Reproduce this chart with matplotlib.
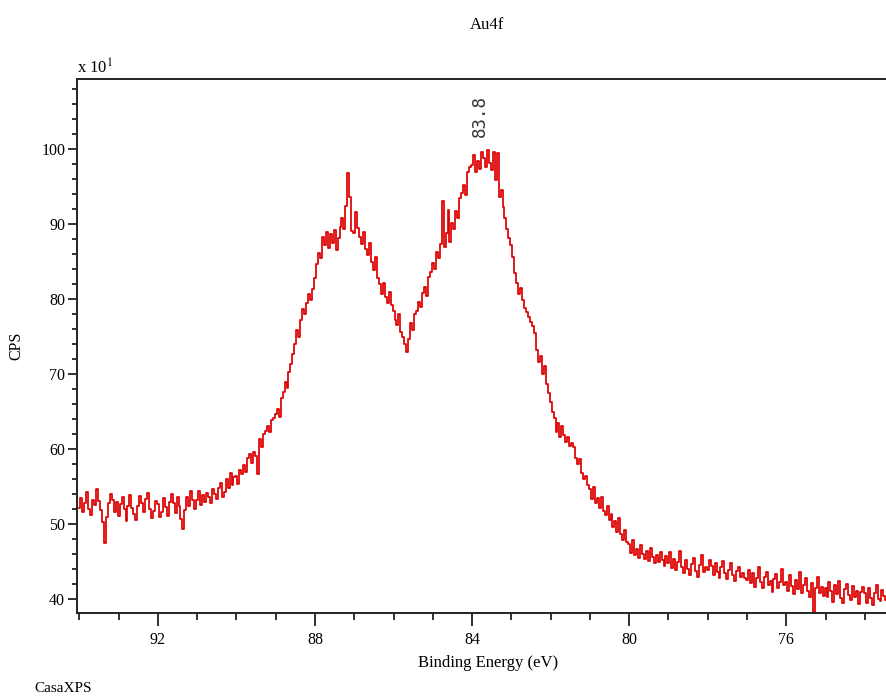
import matplotlib
matplotlib.use('Agg')
import matplotlib.pyplot as plt
import numpy as np

### Data (0.05 eV steps from 94.00 eV)

e_start = 94.00
e_step = 0.05

cps = [
    # 94.00 - 93.05
    52.1, 53.4, 51.6, 52.8, 54.2, 52.0, 51.2, 53.1, 52.5, 54.6, 53.0, 51.8, 50.2, 47.4, 50.9, 52.7, 54.0, 53.2, 51.5, 52.9,
    # 93.00 - 92.05
    51.0, 52.6, 53.5, 51.9, 50.4, 52.3, 53.8, 52.1, 51.3, 50.5, 52.4, 53.7, 52.8, 51.6, 53.3, 54.1, 52.0, 50.8, 51.7, 53.0,
    # 92.00 - 91.05
    52.6, 50.9, 51.5, 53.4, 52.2, 51.0, 52.9, 54.0, 52.7, 51.4, 53.5, 52.3, 50.6, 49.3, 51.8, 53.6, 52.4, 54.3, 53.1, 52.0,
    # 91.00 - 90.05
    53.2, 54.4, 52.5, 53.8, 52.9, 54.1, 53.5, 52.7, 54.6, 53.9, 53.3, 54.8, 55.4, 53.6, 54.2, 55.9, 54.7, 56.8, 55.1, 56.2,
    # 90.00 - 89.05
    56.4, 55.3, 57.1, 56.6, 57.8, 56.9, 58.7, 59.3, 58.1, 59.6, 59.0, 56.6, 61.3, 60.2, 61.9, 62.4, 63.0, 62.2, 63.8, 64.1,
    # 89.00 - 88.05
    64.6, 65.3, 64.2, 66.8, 67.5, 68.9, 68.1, 70.2, 71.3, 72.6, 74.0, 75.8, 74.9, 77.2, 78.6, 77.9, 79.4, 80.6, 79.8, 81.3,
    # 88.00 - 87.05
    82.8, 84.6, 86.1, 85.4, 88.2, 87.1, 88.9, 86.8, 88.6, 87.4, 89.2, 86.5, 88.1, 89.6, 90.8, 89.3, 92.4, 96.8, 93.5, 89.0,
    # 87.00 - 86.05
    88.7, 91.5, 89.4, 88.2, 87.3, 88.9, 86.6, 85.8, 87.4, 84.9, 83.8, 85.5, 82.7, 81.9, 80.6, 82.1, 80.2, 79.4, 80.9, 79.1,
    # 86.00 - 85.05
    78.3, 77.1, 76.5, 78.0, 75.6, 74.9, 73.9, 72.9, 74.6, 76.8, 75.8, 77.9, 78.4, 79.6, 78.9, 80.8, 81.5, 80.4, 82.9, 83.6,
    # 85.00 - 84.05
    84.8, 83.9, 86.2, 85.4, 87.3, 93.0, 86.9, 88.8, 91.8, 87.6, 90.1, 89.3, 91.7, 90.8, 93.4, 94.1, 95.2, 93.8, 96.9, 97.6,
    # 84.00 - 83.05
    97.8, 99.2, 96.9, 98.4, 97.3, 99.6, 98.8, 97.5, 99.8, 98.1, 97.2, 99.5, 95.8, 99.4, 93.6, 94.5, 92.2, 90.8, 89.3, 88.1,
    # 83.00 - 82.05
    87.2, 85.6, 83.4, 82.1, 80.6, 81.4, 79.8, 78.7, 78.2, 77.6, 76.9, 76.3, 75.4, 73.2, 71.6, 72.4, 69.9, 71.0, 68.6, 67.4,
    # 82.00 - 81.05
    66.2, 64.9, 64.1, 62.2, 63.4, 61.5, 63.0, 61.8, 60.9, 61.6, 60.4, 60.8, 60.2, 58.8, 57.9, 58.6, 56.8, 55.9, 56.4, 55.1,
    # 81.00 - 80.05
    54.6, 53.3, 54.9, 52.8, 53.4, 52.1, 53.6, 51.7, 51.2, 52.4, 50.5, 51.3, 49.6, 50.4, 48.9, 50.8, 48.6, 47.9, 49.1, 47.6,
    # 80.00 - 79.05
    47.3, 46.1, 47.8, 45.9, 46.6, 45.4, 47.2, 46.0, 45.3, 46.4, 45.0, 46.8, 45.6, 44.7, 45.9, 44.9, 46.3, 45.1, 44.4, 45.7,
    # 79.00 - 78.05
    44.8, 46.2, 44.1, 45.3, 43.9, 44.9, 46.4, 44.3, 43.5, 45.1, 44.0, 43.2, 44.6, 45.4, 43.7, 42.9, 44.5, 45.8, 43.6, 44.2,
    # 78.00 - 77.05
    43.8, 45.1, 44.4, 43.2, 44.7, 43.6, 42.8, 44.2, 45.0, 43.4, 42.6, 43.9, 44.8, 43.1, 42.4, 43.7, 44.3, 42.9, 43.5, 42.7,
    # 77.00 - 76.05
    42.5, 43.9, 42.1, 43.4, 41.6, 42.8, 44.2, 42.3, 41.4, 42.9, 43.6, 41.8, 42.4, 40.9, 42.6, 43.3, 41.5, 42.2, 44.0, 41.9,
    # 76.00 - 75.05
    42.3, 41.1, 43.2, 41.7, 40.6, 42.5, 41.3, 43.6, 40.8, 41.9, 42.7, 41.0, 40.2, 42.1, 38.3, 41.4, 42.9, 40.7, 41.6, 40.4,
    # 75.00 - 74.05
    41.5, 40.3, 42.2, 41.0, 39.6, 41.8, 40.6, 42.4, 40.1, 39.4, 41.3, 42.0, 40.5, 39.8, 41.7, 40.2, 41.1, 39.3, 40.9, 41.6,
    # 74.00 - 73.45
    40.7, 39.5, 41.4, 40.1, 39.2, 40.8, 41.9, 40.0, 39.7, 41.2, 40.4, 39.9,
]

energy = np.round(e_start - e_step * np.arange(len(cps)), 2)

peak_label = '83.8'
peak_pos = 83.8

x_major = [92, 88, 84, 80, 76]
y_major = [40, 50, 60, 70, 80, 90, 100]

plt.rcParams['font.family'] = ['Liberation Serif', 'DejaVu Serif']
plt.rcParams['mathtext.fontset'] = 'stix'

### Figure

fig = plt.figure(figsize=(8.86, 6.97), dpi=100)
ax = fig.add_axes([77 / 886, 84 / 697, 809 / 886, 534 / 697])

# CasaXPS draws the counts as a step trace
ax.plot(energy, cps, '-', color='#dd0000', lw=1.25, drawstyle='steps-mid')

ax.set_xticks(x_major)
ax.set_xticks(np.arange(74, 95, 1), minor=True)
ax.set_yticks(y_major)
ax.set_yticks(np.arange(40, 110, 2), minor=True)

# limits after ticks so the minor ticks do not widen the view
ax.set_xlim(94.06, 73.46)
ax.set_ylim(38.1, 109.3)

ax.tick_params(which='both', direction='out', width=1.3, labelsize=11.5, color='#222222')
ax.tick_params(axis='x', which='major', length=9, pad=5)
ax.tick_params(axis='x', which='minor', length=5)
ax.tick_params(axis='y', which='major', length=6.5, pad=2)
ax.tick_params(axis='y', which='minor', length=3.5)

for side in ['left', 'bottom', 'top']:
    ax.spines[side].set_linewidth(1.4)
    ax.spines[side].set_color('#222222')
ax.spines['right'].set_visible(False)

# peak annotation
ax.text(peak_pos, 101.6, peak_label, rotation=90, ha='center', va='bottom',
        fontsize=12.5, family='DejaVu Sans Mono', color='#333333')

# multiplier label above the y axis
ax.text(0, 1.003, r'x 10$^{1}$', transform=ax.transAxes, ha='left', va='bottom', fontsize=12)

fig.text(487 / 886, 1 - 25 / 697, 'Au4f', ha='center', va='center', fontsize=12)
fig.text(16 / 886, 1 - 346 / 697, 'CPS', rotation=90, ha='center', va='center', fontsize=11.5)
fig.text(488 / 886, 1 - 663 / 697, 'Binding Energy (eV)', ha='center', va='center', fontsize=12)
fig.text(34 / 886, 1 - 688 / 697, 'CasaXPS', ha='left', va='center', fontsize=11)

fig.savefig('out.png', dpi=100)
plt.close(fig)
